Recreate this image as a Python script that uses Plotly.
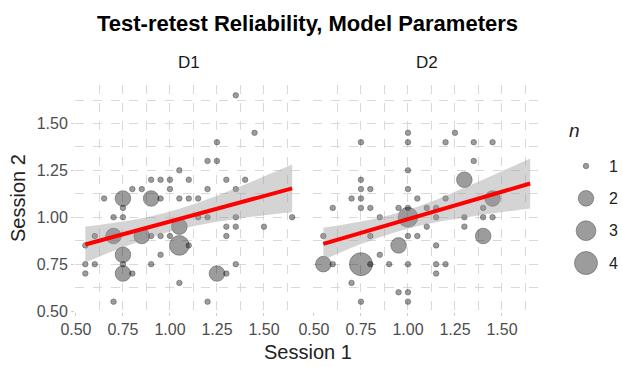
import plotly.graph_objects as go
import numpy as np

# ---------------- data ----------------
d1_x = [1.35,1.45,1.25,1.20,1.25,1.05,0.90,0.95,1.00,1.10,1.30,1.40,0.80,0.85,1.00,1.20,1.35,
        0.65,0.75,0.90,0.95,1.05,1.10,1.15,0.75,0.70,0.75,1.15,1.20,1.35,1.65,1.05,1.30,1.35,
        1.50,0.60,0.70,0.85,0.90,0.95,1.00,1.30,0.55,1.05,1.10,0.75,0.95,0.55,0.60,0.75,0.90,
        1.35,0.55,0.75,0.80,1.25,1.30,1.05,0.70,1.20]
d1_y = [1.65,1.45,1.40,1.30,1.30,1.25,1.20,1.20,1.20,1.20,1.20,1.20,1.15,1.15,1.15,1.15,1.15,
        1.10,1.10,1.10,1.10,1.10,1.10,1.10,1.05,1.00,1.00,1.00,1.00,1.00,1.00,0.95,0.95,0.95,
        0.95,0.90,0.90,0.90,0.90,0.90,0.90,0.90,0.85,0.85,0.85,0.80,0.80,0.75,0.75,0.75,0.75,
        0.75,0.70,0.70,0.70,0.70,0.70,0.65,0.55,0.55]
d1_n = [1,1,1,1,1,1,1,1,1,1,1,1,1,1,1,1,1,
        1,2,2,1,1,1,1,1,1,1,1,1,1,1,2,1,1,
        1,1,2,2,1,1,1,1,1,3,1,2,1,1,1,1,1,
        1,1,2,1,2,1,1,1,1]

d2_x = [1.00,1.25,0.75,1.00,1.20,1.35,1.45,1.35,1.00,1.30,0.75,0.75,0.80,1.00,0.70,0.75,1.05,
        1.20,1.45,0.60,0.75,0.80,0.95,1.00,1.10,1.15,1.40,1.00,0.85,1.15,1.30,1.40,1.45,1.10,
        1.30,0.55,0.80,1.00,1.05,1.40,0.95,1.15,0.85,0.55,0.60,0.75,0.80,0.90,1.00,1.15,1.20,
        1.15,0.70,0.95,1.00,0.75,1.00]
d2_y = [1.45,1.45,1.40,1.40,1.40,1.40,1.40,1.30,1.25,1.20,1.20,1.15,1.15,1.15,1.10,1.10,1.10,
        1.10,1.10,1.05,1.05,1.05,1.05,1.05,1.05,1.05,1.05,1.00,1.00,1.00,1.00,1.00,1.00,0.95,
        0.95,0.90,0.90,0.90,0.90,0.90,0.85,0.85,0.80,0.75,0.75,0.75,0.75,0.75,0.75,0.75,0.75,
        0.70,0.65,0.60,0.60,0.55,0.55]
d2_n = [1,1,1,1,1,1,1,1,1,2,1,1,1,1,1,1,1,
        1,2,1,1,1,1,1,1,1,1,3,1,1,1,1,1,1,
        1,1,1,1,1,2,2,1,1,2,1,4,1,1,1,1,1,
        1,1,1,1,1,1]

# smooth (lm fit) and its confidence band, read at several x positions
smooth_x = [0.55, 0.75, 0.95, 1.15, 1.35, 1.55, 1.65]
d1_fit   = [0.855, 0.909, 0.964, 1.018, 1.073, 1.127, 1.154]
d1_lo    = [0.759, 0.840, 0.910, 0.958, 0.991, 1.016, 1.027]
d1_hi    = [0.951, 0.978, 1.018, 1.078, 1.155, 1.238, 1.281]
d2_fit   = [0.858, 0.917, 0.975, 1.034, 1.092, 1.151, 1.180]
d2_lo    = [0.772, 0.857, 0.926, 0.974, 1.006, 1.034, 1.047]
d2_hi    = [0.944, 0.977, 1.024, 1.094, 1.178, 1.268, 1.313]

tick_vals = [0.50, 0.75, 1.00, 1.25, 1.50]
tick_text = ["0.50", "0.75", "1.00", "1.25", "1.50"]
minor_vals = [0.625, 0.875, 1.125, 1.375, 1.625]
legend_n = [1, 2, 3, 4]

# ---------------- figure ----------------
W, H = 622, 367
FONT = "Liberation Sans, Arial, Helvetica, sans-serif"

def size_of(n):
    n = np.asarray(n, dtype=float)
    return 5.5 + 17.5 * np.sqrt((n - 1) / 3.0)

fig = go.Figure()

PT_FILL = "rgba(0,0,0,0.55)"
PT_LINE = "rgba(0,0,0,0.55)"

for xs, ys, ns, fit, lo, hi, xa, ya in [
    (d1_x, d1_y, d1_n, d1_fit, d1_lo, d1_hi, "x", "y"),
    (d2_x, d2_y, d2_n, d2_fit, d2_lo, d2_hi, "x2", "y2"),
]:
    fig.add_trace(go.Scatter(
        x=xs, y=ys, mode="markers", xaxis=xa, yaxis=ya, showlegend=False,
        marker=dict(size=size_of(ns), color=PT_FILL, line=dict(color=PT_LINE, width=0.9)),
        hoverinfo="skip"))
    fig.add_trace(go.Scatter(
        x=smooth_x, y=lo, mode="lines", xaxis=xa, yaxis=ya, showlegend=False,
        line=dict(width=0, shape="spline"), hoverinfo="skip"))
    fig.add_trace(go.Scatter(
        x=smooth_x, y=hi, mode="lines", xaxis=xa, yaxis=ya, showlegend=False,
        fill="tonexty", fillcolor="rgba(153,153,153,0.42)",
        line=dict(width=0, shape="spline"), hoverinfo="skip"))
    fig.add_trace(go.Scatter(
        x=smooth_x, y=fit, mode="lines", xaxis=xa, yaxis=ya, showlegend=False,
        line=dict(color="#ff0000", width=4), hoverinfo="skip"))

# legend drawn on its own hidden axes
fig.add_trace(go.Scatter(
    x=[0.5] * len(legend_n), y=legend_n, mode="markers", xaxis="x3", yaxis="y3",
    showlegend=False, hoverinfo="skip", cliponaxis=False,
    marker=dict(size=size_of(legend_n), color=PT_FILL, line=dict(color=PT_LINE, width=0.9))))

def px_x(p):
    return p / W

def px_y(p):
    return (H - p) / H

GRID = "#d9d9d9"
TICKFONT = dict(family=FONT, size=16, color="#4d4d4d")
common_axis = dict(
    showgrid=True, gridcolor=GRID, gridwidth=1, griddash="dash",
    zeroline=False, showline=False, ticks="outside", ticklen=3, tickwidth=1,
    tickcolor="#cfcfcf", tickvals=tick_vals, ticktext=tick_text,
    minor=dict(tickvals=minor_vals, showgrid=True, gridcolor=GRID, gridwidth=0.8,
               griddash="dash", ticks=""),
    range=[0.495, 1.705], fixedrange=True, automargin=False,
)

panel_top, panel_bottom = 85, 312
d1_left, d1_right = 75, 302.5
d2_left, d2_right = 313, 540.5

fig.update_layout(
    width=W, height=H,
    margin=dict(l=0, r=0, t=0, b=0),
    paper_bgcolor="white", plot_bgcolor="white",
    font=dict(family=FONT, color="#333333"),
    xaxis=dict(common_axis, domain=[px_x(d1_left), px_x(d1_right)], anchor="y",
               tickfont=TICKFONT),
    xaxis2=dict(common_axis, domain=[px_x(d2_left), px_x(d2_right)], anchor="y2",
                tickfont=TICKFONT),
    yaxis=dict(common_axis, domain=[px_y(panel_bottom), px_y(panel_top)], anchor="x",
               tickfont=TICKFONT),
    yaxis2=dict(common_axis, domain=[px_y(panel_bottom), px_y(panel_top)], anchor="x2",
                showticklabels=False, ticks=""),
    xaxis3=dict(domain=[px_x(570), px_x(602)], range=[0, 1], visible=False,
                anchor="y3", fixedrange=True, automargin=False),
    yaxis3=dict(domain=[px_y(279.2), px_y(149.85)], range=[4.5, 0.5], visible=False,
                anchor="x3", fixedrange=True, automargin=False),
)

def label(text, x, y, size, color, **kw):
    d = dict(text=text, x=x, y=y, xref="paper", yref="paper", showarrow=False,
             xanchor="center", yanchor="middle",
             font=dict(family=FONT, size=size, color=color))
    d.update(kw)
    return d

ann = [
    label("<b>Test-retest Reliability, Model Parameters</b>", px_x(307.5), px_y(24), 22, "#000000"),
    label("D1", px_x((d1_left + d1_right) / 2), px_y(62), 17, "#1a1a1a"),
    label("D2", px_x((d2_left + d2_right) / 2), px_y(62), 17, "#1a1a1a"),
    label("Session 1", px_x(308), px_y(352), 20, "#222222"),
    label("Session 2", px_x(17.5), px_y(198.5), 20, "#222222", textangle=-90),
    label("<i>n</i>", px_x(574), px_y(130), 19, "#222222"),
]
for n in legend_n:
    ann.append(dict(text=str(n), x=px_x(607), y=n, xref="paper", yref="y3",
                    xanchor="left", yanchor="middle", showarrow=False,
                    font=dict(family=FONT, size=16, color="#222222")))
fig.update_layout(annotations=ann)

# remove the browser's default 8px body margin so the figure sits at (0, 0)
fig.write_html("out.html", config={"displayModeBar": False},
               post_script="document.body.style.margin='0';document.body.style.padding='0';")
